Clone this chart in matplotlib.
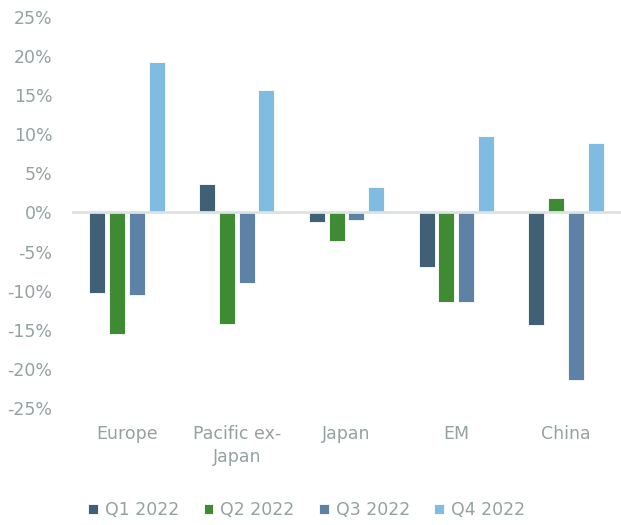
import matplotlib
matplotlib.use("Agg")
import matplotlib.pyplot as plt
import numpy as np
from matplotlib.ticker import FuncFormatter

categories = ["Europe", "Pacific ex-\nJapan", "Japan", "EM", "China"]
series_names = ["Q1 2022", "Q2 2022", "Q3 2022", "Q4 2022"]
q1 = [-10.3, 3.7, -1.2, -7.0, -14.4]
q2 = [-15.6, -14.2, -3.7, -11.4, 1.9]
q3 = [-10.6, -9.0, -0.9, -11.4, -21.4]
q4 = [19.3, 15.7, 3.2, 9.8, 8.9]
yticks = [-25, -20, -15, -10, -5, 0, 5, 10, 15, 20, 25]

colors = ["#3F6075", "#3E8B34", "#5E82A6", "#80BCE2"]
text_color = "#95A1A1"

plt.rcParams['font.family'] = ['DejaVu Sans']

fig = plt.figure(figsize=(6.21, 5.25), dpi=100)
ax = fig.add_axes([0.116, 0.2229, 0.884, 0.7447])

x = np.arange(len(categories))
step = 0.18
width = 0.145
for i, (vals, name) in enumerate(zip([q1, q2, q3, q4], series_names)):
    ax.bar(x + (i - 1.5) * step, vals, width, color=colors[i], label=name,
           edgecolor="white", linewidth=0.6, zorder=2)

ax.axhline(0, color="#DCE2E2", linewidth=2, zorder=3)
ax.set_xlim(-0.5, len(categories) - 0.5)
ax.set_ylim(-25, 25)
ax.set_yticks(yticks)
ax.yaxis.set_major_formatter(FuncFormatter(lambda v, p: f"{int(v)}%"))
ax.set_xticks(x)
ax.set_xticklabels(categories)
ax.tick_params(axis="both", length=0, labelsize=12.5, colors=text_color)
ax.tick_params(axis="y", pad=14)
ax.tick_params(axis="x", pad=12)
for lab in ax.get_xticklabels():
    lab.set_linespacing(1.35)
for s in ax.spines.values():
    s.set_visible(False)

leg = fig.legend(loc="center left", bbox_to_anchor=(0.117, 0.028), ncol=4, frameon=False,
                 fontsize=12.5, handlelength=0.55, handleheight=0.55, handletextpad=0.4,
                 columnspacing=1.42, labelcolor=text_color)

fig.savefig("out.png", dpi=100)
